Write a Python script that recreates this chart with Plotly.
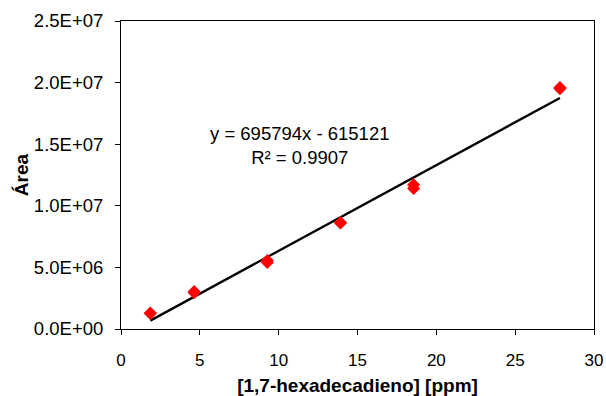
import plotly.graph_objects as go

# Data
conc_ppm = [1.86, 1.86, 4.64, 4.64, 9.28, 9.28, 13.92, 13.92, 18.56, 18.56, 27.84, 27.84]
area = [1.30e6, 1.25e6, 2.95e6, 3.05e6, 5.40e6, 5.55e6, 8.60e6, 8.65e6, 1.14e7, 1.17e7, 1.95e7, 1.96e7]

slope = 695794
intercept = -615121
r2 = 0.9907

y_ticks = [0, 5e6, 1e7, 1.5e7, 2e7, 2.5e7]
x_ticks = [0, 5, 10, 15, 20, 25, 30]

FONT = "Liberation Sans, Arial, sans-serif"

x_line = [min(conc_ppm), max(conc_ppm)]
y_line = [slope * v + intercept for v in x_line]

fig = go.Figure()
fig.add_trace(go.Scatter(x=x_line, y=y_line, mode="lines",
                         line=dict(color="black", width=2.3), hoverinfo="skip"))
fig.add_trace(go.Scatter(x=conc_ppm, y=area, mode="markers",
                         marker=dict(symbol="diamond", size=10, color="#FF0000",
                                     line=dict(width=0))))

eq_text = f"y = {slope}x - {abs(intercept)}<br>R² = {r2}"
fig.add_annotation(x=11.35, y=1.49e7, xref="x", yref="y", text=eq_text,
                   showarrow=False, align="center",
                   font=dict(family=FONT, size=18.5, color="black"))

axis_common = dict(showline=True, linecolor="black", linewidth=1, mirror=True,
                   ticks="outside", ticklen=5, tickcolor="black", showgrid=False,
                   zeroline=False, automargin=False)

fig.update_xaxes(range=[0, 30], tickvals=x_ticks, ticktext=[str(v) for v in x_ticks],
                 tickfont=dict(family=FONT, size=17, color="black"),
                 ticklabelstandoff=11,
                 title=dict(text="<b>[1,7-hexadecadieno] [ppm]</b>", standoff=12,
                            font=dict(family=FONT, size=19, color="black")),
                 **axis_common)
fig.update_yaxes(range=[0, 2.5e7], tickvals=y_ticks,
                 ticktext=[f"{v:.1E}" for v in y_ticks],
                 tickfont=dict(family=FONT, size=18.5, color="black"),
                 ticklabelstandoff=8,
                 title=dict(text="<b>Área</b>", standoff=0,
                            font=dict(family=FONT, size=19, color="black")),
                 **axis_common)

fig.update_layout(width=606, height=396, showlegend=False,
                  margin=dict(l=121, r=12, t=21, b=67),
                  plot_bgcolor="white", paper_bgcolor="white")

fig.write_html("out.html")
